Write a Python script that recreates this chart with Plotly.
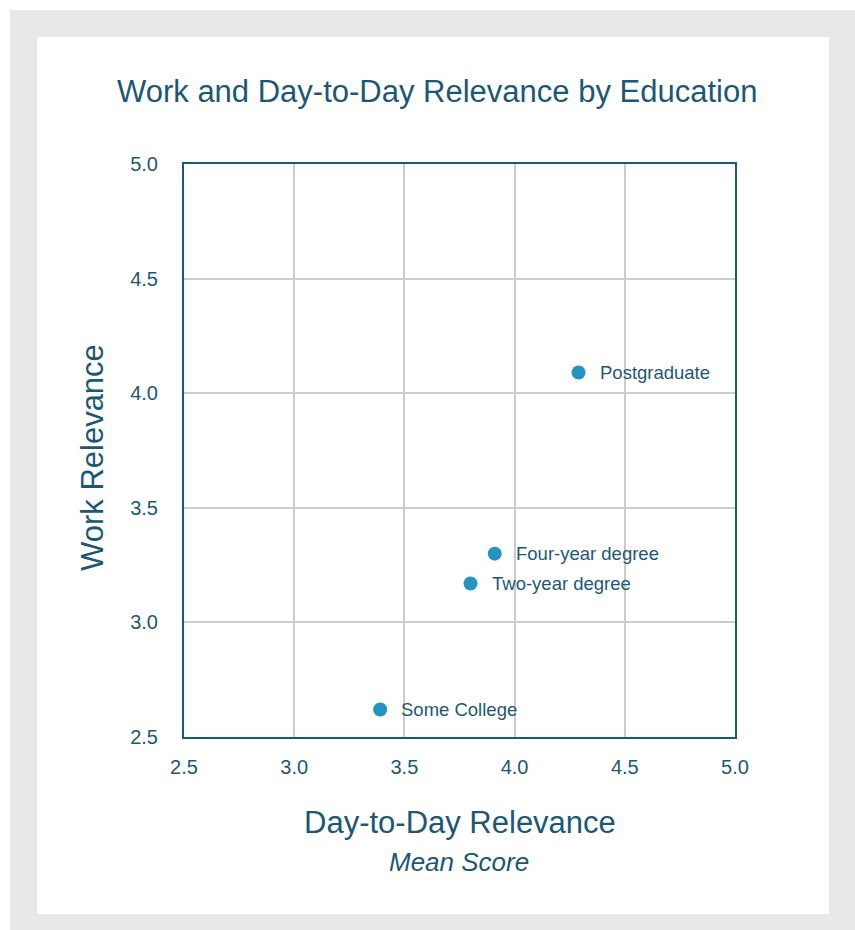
import plotly.graph_objects as go

categories = ["Postgraduate", "Four-year degree", "Two-year degree", "Some College"]
day_to_day = [4.29, 3.91, 3.80, 3.39]
work = [4.09, 3.30, 3.17, 2.62]
tick_vals = [2.5, 3.0, 3.5, 4.0, 4.5, 5.0]
tick_text = ["2.5", "3.0", "3.5", "4.0", "4.5", "5.0"]

TEAL = "#1b5876"
FONT = "Liberation Sans, Arial, sans-serif"

W, H = 855, 930
L, R, T, B = 184, 120, 164, 193
pw, ph = W - L - R, H - T - B

def px_x(fx):
    return (fx - L) / pw

def px_y(fy):
    return (H - B - fy) / ph

fig = go.Figure()
fig.add_trace(go.Scatter(
    x=day_to_day, y=work, mode="markers",
    marker=dict(size=14, color="#2394c2", line=dict(width=0)),
    hoverinfo="skip", showlegend=False, cliponaxis=False,
))

annotations = []
for c, xv, yv in zip(categories, day_to_day, work):
    annotations.append(dict(x=xv, y=yv, xref="x", yref="y", text=c, showarrow=False,
                            xanchor="left", yanchor="middle", xshift=19,
                            font=dict(family=FONT, size=18.5, color=TEAL)))

annotations += [
    dict(x=px_x(437), y=px_y(91), xref="paper", yref="paper",
         text="Work and Day-to-Day Relevance by Education", showarrow=False,
         xanchor="center", yanchor="middle", font=dict(family=FONT, size=31, color=TEAL)),
    dict(x=px_x(92), y=px_y(458), xref="paper", yref="paper",
         text="Work Relevance", textangle=-90, showarrow=False,
         xanchor="center", yanchor="middle", font=dict(family=FONT, size=31, color=TEAL)),
    dict(x=px_x(460), y=px_y(823), xref="paper", yref="paper",
         text="Day-to-Day Relevance", showarrow=False,
         xanchor="center", yanchor="middle", font=dict(family=FONT, size=31, color=TEAL)),
    dict(x=px_x(459), y=px_y(862), xref="paper", yref="paper",
         text="<i>Mean Score</i>", showarrow=False,
         xanchor="center", yanchor="middle", font=dict(family=FONT, size=26, color=TEAL)),
]

fig.add_shape(type="rect", xref="paper", yref="paper",
              x0=px_x(10), x1=px_x(W + 5), y0=px_y(H + 5), y1=px_y(10),
              fillcolor="#e8e8e8", line=dict(width=0), layer="below")
fig.add_shape(type="rect", xref="paper", yref="paper",
              x0=px_x(37), x1=px_x(829), y0=px_y(914), y1=px_y(37),
              fillcolor="white", line=dict(width=0), layer="below")

axis_common = dict(range=[2.5, 5.0], tickvals=tick_vals, ticktext=tick_text,
                   showgrid=True, gridcolor="#cccccc", gridwidth=1.5,
                   showline=True, linecolor=TEAL, linewidth=2, mirror=True,
                   zeroline=False, ticks="",
                   tickfont=dict(family=FONT, size=20, color=TEAL))

fig.update_layout(
    width=W, height=H,
    margin=dict(l=L, r=R, t=T, b=B),
    paper_bgcolor="white", plot_bgcolor="white",
    xaxis=dict(**axis_common, ticklabelstandoff=11),
    yaxis=dict(**axis_common, ticklabelstandoff=20),
    annotations=annotations,
    font=dict(family=FONT, color=TEAL),
)

fig.write_html("out.html", config={"displayModeBar": False},
               post_script="document.body.style.margin='0';document.body.style.overflow='hidden';")
